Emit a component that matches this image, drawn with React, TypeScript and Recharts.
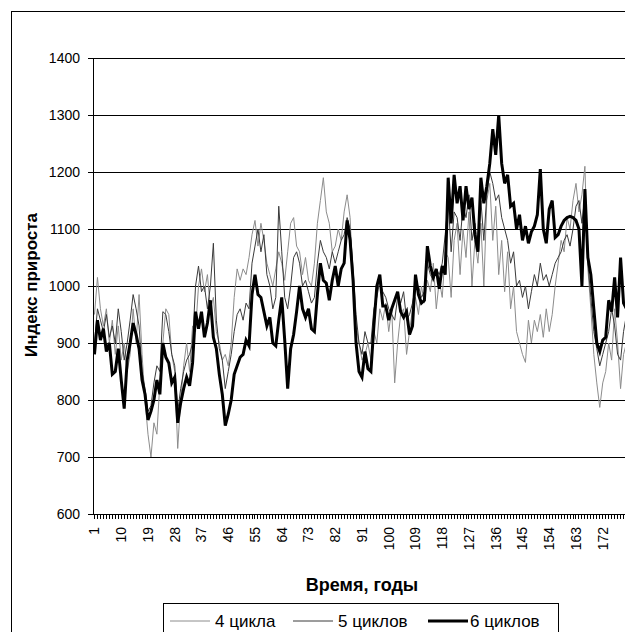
import React from 'react';
import { LineChart, Line, XAxis, YAxis, CartesianGrid } from 'recharts';

const FONT = '"Liberation Sans", Arial, sans-serif';

const SERIES_NAMES = ['4 цикла', '5 циклов', '6 циклов'];

// growth index, 4-cycle model
const CYCLE4 = [
  950, 1015, 960, 930, 960, 900, 940, 880, 930, 870,
  900, 850, 880, 960, 900, 985, 880, 800, 740, 700,
  760, 740, 830, 900, 960, 950, 880, 850, 715, 800,
  860, 900, 850, 930, 920, 1000, 1030, 990, 1020, 960,
  980, 920, 900, 870, 880, 860, 900, 980, 1030, 1010,
  1030, 1020, 1050, 1090, 1115, 1070, 1110, 1080, 1040, 1020,
  1000, 1030, 1060, 1040, 1010, 1060, 1110, 1120, 1070, 1060,
  1020, 1050, 1010, 1000, 1040, 1110, 1150, 1190, 1130, 1110,
  1060, 1070, 1100, 1080, 1130, 1160, 1120, 1010, 930, 900,
  870, 880, 900, 870, 920, 900, 960, 940, 970, 920,
  960, 830, 900, 950, 960, 880, 920, 960, 980, 950,
  1000, 970, 1010, 990, 1040, 960, 1010, 980, 1060, 1050,
  980, 1080, 1110, 1020, 1100, 1050, 1130, 1000, 1080, 1040,
  1110, 1000, 1150, 1180, 1080, 1140, 1020, 1080, 990, 1060,
  960, 1000, 920, 900, 880, 866, 940, 900, 940, 920,
  950, 910, 960, 920, 950, 1000, 1040, 1080, 1060, 1120,
  1100, 1150, 1180, 1130, 1160, 1210, 1030, 960, 880, 830,
  787, 830, 850, 900, 870, 960, 900, 820, 880, 900,
];

// growth index, 5-cycle model
const CYCLE5 = [
  900, 960, 940, 920, 950, 910, 930, 900, 960, 920,
  870, 900, 940, 985, 960, 930, 850, 820, 780, 790,
  830, 860, 850, 955, 950, 920, 880, 860, 780, 820,
  850, 870, 880, 900, 1000, 1035, 990, 1000, 960, 1000,
  1075, 940, 890, 870, 820, 850, 880, 920, 950, 960,
  940, 970, 960, 1040, 1070, 1100, 1060, 1090, 1020, 1000,
  960, 980, 1140, 1060, 980, 960, 1000, 1050, 1060, 1040,
  1000, 1010, 990, 970, 980, 1040, 1080, 1060, 1050, 1030,
  1060, 1040, 1060, 1080, 1090, 1120, 1100, 1030, 950, 900,
  880, 920, 900, 900, 960, 980, 1010, 990, 980, 960,
  950, 940, 980, 970, 990, 940, 950, 970, 1000, 1000,
  980, 990, 1040, 1020, 1010, 1030, 1020, 1040, 1090, 1150,
  1060, 1130, 1120, 1080, 1140, 1120, 1160, 1080, 1110, 1060,
  1150, 1080, 1160, 1200, 1180, 1150, 1160, 1120, 1100, 1080,
  1040, 1060, 1000, 1010, 980, 1000, 960, 990, 1020, 1000,
  1040, 1010, 1020, 1000, 1020, 1040, 1050, 1060, 1080, 1090,
  1070, 1100, 1140, 1150, 1110, 1160, 1040, 980, 920, 890,
  860, 880, 900, 920, 960, 930, 880, 870, 920, 950,
];

// growth index, 6-cycle model
const CYCLE6 = [
  880, 940, 905, 925, 885, 900, 845, 850, 890, 835,
  785, 870, 900, 935, 915, 890, 835, 810, 765, 780,
  800, 835, 810, 900, 875, 865, 830, 840, 760, 795,
  820, 840, 825, 865, 955, 925, 955, 910, 935, 975,
  910, 890, 845, 810, 755, 775, 800, 845, 860, 875,
  880, 905, 895, 985, 1020, 985, 980, 955, 930, 945,
  900, 895, 940, 980, 905, 820, 890, 915, 955, 1000,
  960, 945, 960, 925, 920, 985, 1040, 1010, 1005, 975,
  1010, 1035, 1000, 1030, 1040, 1115, 1080, 1010, 900, 850,
  840, 885, 855, 850, 930, 1000, 1020, 965, 965, 940,
  960, 975, 990, 955, 945, 955, 915, 930, 1020, 985,
  970, 975, 1070, 1035, 1015, 1030, 995, 1035, 1020, 1190,
  1110, 1195, 1145, 1175, 1115, 1175, 1135, 1155, 1090, 1060,
  1190, 1145, 1175, 1215, 1275, 1230, 1300, 1215, 1180, 1195,
  1140, 1145, 1100, 1125, 1080, 1105, 1075, 1095, 1105, 1125,
  1205, 1100, 1075, 1135, 1150, 1085, 1090, 1105, 1115, 1120,
  1122, 1120, 1115, 1100, 1000, 1170, 1050, 1020, 960, 900,
  885, 905, 910, 975, 955, 1015, 945, 1050, 970, 960,
];

const Y_TICKS = [600, 700, 800, 900, 1000, 1100, 1200, 1300, 1400];
const X_LABELS = [1, 10, 19, 28, 37, 46, 55, 64, 73, 82, 91, 100, 109, 118, 127, 136, 145, 154, 163, 172];

const YEARS = CYCLE6.map((_, i) => i + 1);
const data = YEARS.map((year, i) => ({
  year,
  c4: CYCLE4[i],
  c5: CYCLE5[i],
  c6: CYCLE6[i],
}));

// every year gets a tick mark, only every 9th year gets a label
function YearTick(props: any) {
  const { x, y, payload } = props;
  if (!X_LABELS.includes(payload.value)) return null;
  const ty = y + 6;
  return (
    <text
      x={x}
      y={ty}
      transform={`rotate(-90 ${x} ${ty})`}
      textAnchor="end"
      dominantBaseline="central"
      fontSize={14}
      fontFamily={FONT}
      fill="#000"
    >
      {payload.value}
    </text>
  );
}

const legendItems = [
  { name: SERIES_NAMES[0], color: '#8c8c8c', width: 1, x1: 170, x2: 210, tx: 215 },
  { name: SERIES_NAMES[1], color: '#3a3a3a', width: 1, x1: 293, x2: 333, tx: 338 },
  { name: SERIES_NAMES[2], color: '#000', width: 3, x1: 428, x2: 468, tx: 470 },
];

export default function App() {
  return (
    <div
      style={{
        position: 'fixed',
        left: 0,
        top: 0,
        width: 625,
        height: 632,
        overflow: 'hidden',
        background: '#fff',
      }}
    >
      <div style={{ position: 'absolute', left: 0, top: 0 }}>
        <LineChart width={640} height={660} data={data} margin={{ top: 58, right: 12, bottom: 0, left: 0 }}>
          <CartesianGrid vertical={false} stroke="#000" shapeRendering="crispEdges" />
          <XAxis
            dataKey="year"
            type="number"
            domain={[0.5, 180.5]}
            ticks={YEARS}
            interval={0}
            height={146}
            tick={<YearTick />}
            tickSize={5}
            tickMargin={2}
            tickLine={{ stroke: '#000', shapeRendering: 'crispEdges' }}
            axisLine={{ stroke: '#000', shapeRendering: 'crispEdges' }}
          />
          <YAxis
            type="number"
            domain={[600, 1400]}
            ticks={Y_TICKS}
            interval={0}
            width={93}
            tickSize={5}
            tickMargin={8}
            tick={{ fill: '#000', fontSize: 14, fontFamily: FONT }}
            tickLine={{ stroke: '#000', shapeRendering: 'crispEdges' }}
            axisLine={{ stroke: '#000', shapeRendering: 'crispEdges' }}
          />
          <Line
            dataKey="c4"
            name={SERIES_NAMES[0]}
            type="linear"
            stroke="#8c8c8c"
            strokeWidth={1}
            dot={false}
            isAnimationActive={false}
          />
          <Line
            dataKey="c5"
            name={SERIES_NAMES[1]}
            type="linear"
            stroke="#3a3a3a"
            strokeWidth={1}
            dot={false}
            isAnimationActive={false}
          />
          <Line
            dataKey="c6"
            name={SERIES_NAMES[2]}
            type="linear"
            stroke="#000"
            strokeWidth={3}
            dot={false}
            isAnimationActive={false}
          />
        </LineChart>
      </div>
      <svg
        width={625}
        height={632}
        style={{ position: 'absolute', left: 0, top: 0, pointerEvents: 'none' }}
      >
        {/* chart frame */}
        <rect x={11.5} y={11.5} width={700} height={700} fill="none" stroke="#000" strokeWidth={1} />
        <text
          x={31}
          y={285}
          transform="rotate(-90 31 285)"
          textAnchor="middle"
          dominantBaseline="central"
          fontSize={17}
          fontWeight="bold"
          fontFamily={FONT}
          fill="#000"
        >
          Индекс прироста
        </text>
        <text
          x={362}
          y={585}
          textAnchor="middle"
          dominantBaseline="central"
          fontSize={18}
          fontWeight="bold"
          fontFamily={FONT}
          fill="#000"
        >
          Время, годы
        </text>
        {/* legend */}
        <rect x={163.5} y={603.5} width={395} height={60} fill="#fff" stroke="#000" strokeWidth={1} />
        {legendItems.map((it) => (
          <g key={it.name}>
            <line x1={it.x1} x2={it.x2} y1={621} y2={621} stroke={it.color} strokeWidth={it.width} />
            <text x={it.tx} y={627} fontSize={17} fontFamily={FONT} fill="#000">
              {it.name}
            </text>
          </g>
        ))}
      </svg>
    </div>
  );
}
